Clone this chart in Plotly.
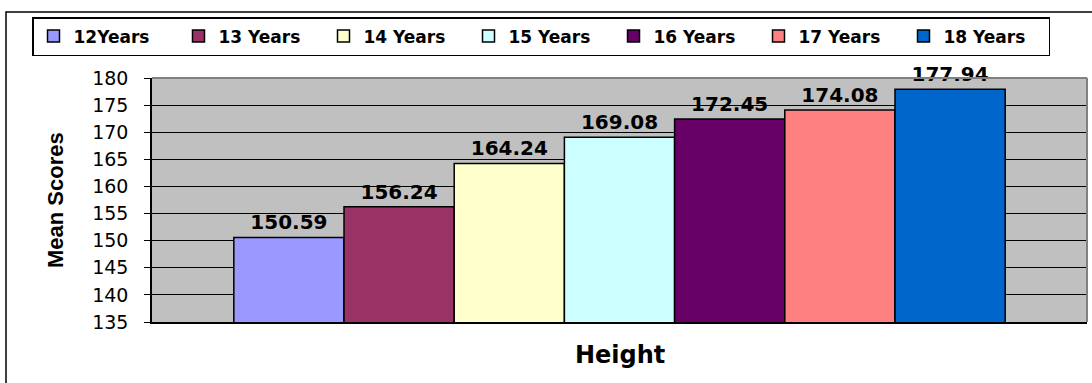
import plotly.graph_objects as go

categories = ["Height"]
series_names = ["12Years", "13 Years", "14 Years", "15 Years", "16 Years", "17 Years", "18 Years"]
series_values = [150.59, 156.24, 164.24, 169.08, 172.45, 174.08, 177.94]
series_colors = ["#9999FF", "#993366", "#FFFFCC", "#CCFFFF", "#660066", "#FF8080", "#0066CC"]
y_ticks = [135, 140, 145, 150, 155, 160, 165, 170, 175, 180]

W, H = 1092, 383
L, R, T, B = 152, 1087, 78, 322
pw, ph = R - L, B - T

def px(x):
    return (x - L) / pw

def py(y):
    return (B - y) / ph

fig = go.Figure()
for name, val, col in zip(series_names, series_values, series_colors):
    fig.add_trace(go.Bar(
        x=categories, y=[val], name=name,
        marker=dict(color=col, line=dict(color="#000000", width=1.5)),
        texttemplate="%{y:.2f}", textposition="outside",
        textfont=dict(family="DejaVu Sans", size=20, color="#000000", weight="bold"),
        cliponaxis=False,
    ))

fig.update_layout(
    width=W, height=H,
    margin=dict(l=L, r=W - R, t=T, b=H - B),
    paper_bgcolor="white", plot_bgcolor="#C0C0C0",
    barmode="group", bargap=0.175, bargroupgap=0,
    showlegend=True,
    legend=dict(
        orientation="h", x=px(32), xanchor="left", y=py(17), yanchor="top",
        bgcolor="white", bordercolor="#000000", borderwidth=1.5,
        font=dict(family="DejaVu Sans", size=17, color="#000000", weight="bold"),
        traceorder="normal", entrywidth=100, entrywidthmode="pixels",
    ),
    xaxis=dict(showticklabels=False, showgrid=False, showline=True, linecolor="#000000",
               linewidth=1.5, ticks="", zeroline=False),
    yaxis=dict(range=[135, 180], tickvals=y_ticks, ticks="outside", ticklen=6,
               tickcolor="#000000", showgrid=True, gridcolor="#000000", gridwidth=1,
               showline=True, linecolor="#000000", linewidth=1.5, zeroline=False,
               ticklabelstandoff=12,
               tickfont=dict(family="DejaVu Sans", size=19, color="#000000")),
    shapes=[
        dict(type="line", xref="paper", yref="paper", x0=0, x1=1, y0=1, y1=1,
             line=dict(color="#808080", width=2), layer="above"),
        dict(type="line", xref="paper", yref="paper", x0=1, x1=1, y0=0, y1=1,
             line=dict(color="#808080", width=2), layer="above"),
        dict(type="rect", xref="paper", yref="paper", x0=px(6), x1=px(1110),
             y0=py(400), y1=py(12), line=dict(color="#000000", width=1.5),
             fillcolor="rgba(0,0,0,0)", layer="below"),
    ],
    annotations=[
        dict(text="Mean Scores", xref="paper", yref="paper", x=px(55), y=py(200),
             textangle=-90, showarrow=False, xanchor="center", yanchor="middle",
             font=dict(family="Liberation Sans", size=22, color="#000000", weight="bold")),
        dict(text="Height", xref="paper", yref="paper", x=px(620), y=py(355),
             showarrow=False, xanchor="center", yanchor="middle",
             font=dict(family="DejaVu Sans", size=24, color="#000000", weight="bold")),
    ],
)

fig.write_html("out.html")
